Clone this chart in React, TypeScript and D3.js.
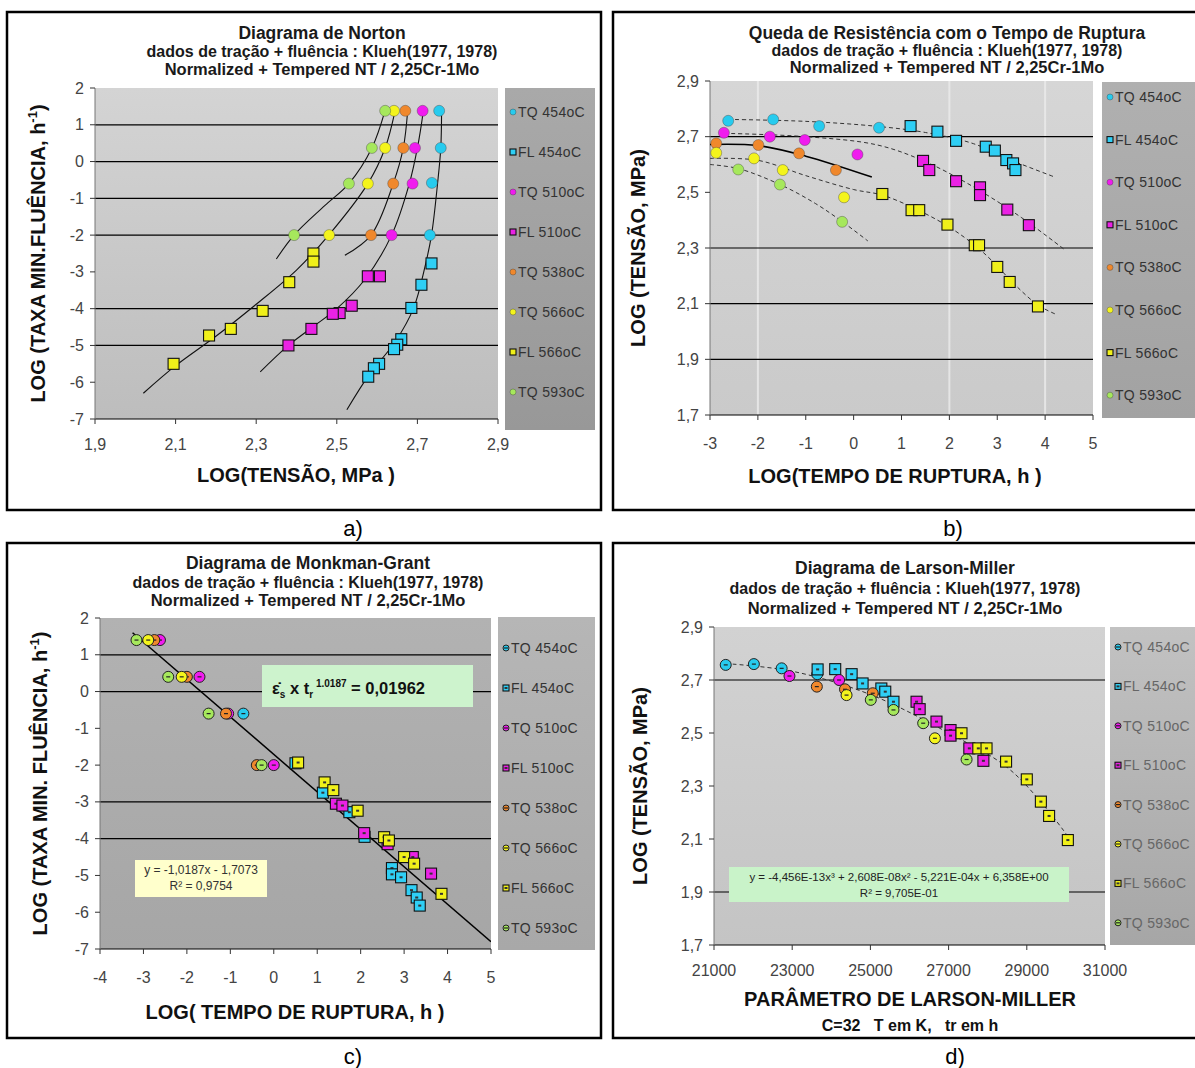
import React from "react";
import * as d3 from "d3";

type Pt = [number, number];

const FONT = '"Liberation Sans", Arial, sans-serif';

// legend (same in all four charts)
const legendNames = ["TQ 454oC", "FL 454oC", "TQ 510oC", "FL 510oC", "TQ 538oC", "TQ 566oC", "FL 566oC", "TQ 593oC"];
const markerColors = ["#27cbee", "#2fcff5", "#f01cee", "#ea22e4", "#f0882c", "#f4f41c", "#f0f01a", "#a6e85c"];
const markerShapes = ["circle", "square", "circle", "square", "circle", "circle", "square", "circle"];

// a) Norton: log(tensão) x log(taxa mín.)
const nortonTQ454: Pt[] = [[2.754, 1.38], [2.758, 0.37], [2.736, -0.58], [2.731, -2.0]];
const nortonFL454: Pt[] = [[2.735, -2.77], [2.71, -3.35], [2.685, -3.98], [2.66, -4.83], [2.65, -4.98], [2.642, -5.1], [2.605, -5.5], [2.592, -5.62], [2.578, -5.85]];
const nortonTQ510: Pt[] = [[2.713, 1.38], [2.694, 0.37], [2.688, -0.6], [2.636, -2.0]];
const nortonFL510: Pt[] = [[2.577, -3.12], [2.607, -3.12], [2.537, -3.92], [2.507, -4.12], [2.49, -4.14], [2.437, -4.55], [2.38, -5.0]];
const nortonTQ538: Pt[] = [[2.67, 1.38], [2.665, 0.37], [2.64, -0.6], [2.585, -2.0]];
const nortonTQ566: Pt[] = [[2.642, 1.38], [2.62, 0.37], [2.577, -0.6], [2.481, -2.0]];
const nortonFL566: Pt[] = [[2.442, -2.5], [2.442, -2.72], [2.382, -3.28], [2.316, -4.06], [2.237, -4.55], [2.183, -4.73], [2.095, -5.5]];
const nortonTQ593: Pt[] = [[2.62, 1.38], [2.587, 0.37], [2.53, -0.6], [2.394, -2.0]];
const nortonFit593: Pt[] = [[2.35, -2.65], [2.394, -2.0], [2.47, -1.2], [2.53, -0.6], [2.587, 0.37], [2.62, 1.4]];
const nortonFit566: Pt[] = [[2.02, -6.3], [2.1, -5.55], [2.2, -4.75], [2.3, -3.88], [2.4, -2.95], [2.48, -2.0], [2.577, -0.6], [2.62, 0.37], [2.645, 1.4]];
const nortonFit538: Pt[] = [[2.52, -2.55], [2.585, -2.0], [2.64, -0.6], [2.665, 0.37], [2.676, 1.4]];
const nortonFit510: Pt[] = [[2.31, -5.72], [2.38, -5.0], [2.44, -4.5], [2.5, -4.0], [2.57, -3.2], [2.636, -2.0], [2.68, -0.6], [2.7, 0.37], [2.715, 1.4]];
const nortonFit454: Pt[] = [[2.525, -6.75], [2.58, -5.8], [2.645, -4.9], [2.69, -4.0], [2.72, -2.8], [2.735, -2.0], [2.75, -0.6], [2.758, 0.37], [2.76, 1.4]];

// b) queda de resistência: log(tr) x log(tensão)
const rupTQ454: Pt[] = [[-2.62, 2.757], [-1.68, 2.762], [-0.72, 2.738], [0.53, 2.732]];
const rupFL454: Pt[] = [[1.19, 2.738], [1.75, 2.718], [2.14, 2.685], [2.76, 2.664], [2.95, 2.65], [3.19, 2.616], [3.33, 2.604], [3.38, 2.58]];
const rupTQ510: Pt[] = [[-2.71, 2.714], [-1.75, 2.7], [-1.02, 2.688], [0.08, 2.636]];
const rupFL510: Pt[] = [[1.45, 2.613], [1.58, 2.58], [2.14, 2.54], [2.64, 2.518], [2.64, 2.49], [3.21, 2.438], [3.66, 2.382]];
const rupTQ538: Pt[] = [[-2.87, 2.676], [-1.99, 2.67], [-1.14, 2.64], [-0.37, 2.58]];
const rupTQ566: Pt[] = [[-2.87, 2.642], [-2.08, 2.622], [-1.48, 2.58], [-0.2, 2.482]];
const rupFL566: Pt[] = [[0.6, 2.494], [1.21, 2.436], [1.37, 2.436], [1.96, 2.384], [2.53, 2.31], [2.62, 2.31], [3.0, 2.232], [3.26, 2.178], [3.85, 2.09]];
const rupTQ593: Pt[] = [[-2.41, 2.582], [-1.54, 2.528], [-0.24, 2.394]];
const rupFit454: Pt[] = [[-2.62, 2.762], [-1, 2.755], [0.5, 2.737], [1.5, 2.715], [2.5, 2.675], [3.3, 2.615], [4.2, 2.555]];
const rupFit510: Pt[] = [[-2.7, 2.712], [-1, 2.7], [0.5, 2.67], [1.5, 2.61], [2.5, 2.52], [3.5, 2.41], [4.4, 2.295]];
const rupFit538: Pt[] = [[-3, 2.672], [-2, 2.668], [-1, 2.63], [0.38, 2.555]];
const rupFit566: Pt[] = [[-3, 2.622], [-2, 2.615], [-1, 2.56], [0, 2.51], [0.6, 2.49], [1.3, 2.44], [2, 2.375], [2.6, 2.3], [3.0, 2.235], [3.3, 2.18], [3.85, 2.095], [4.25, 2.06]];
const rupFit593: Pt[] = [[-3, 2.6], [-2.4, 2.585], [-1.5, 2.525], [-0.8, 2.46], [-0.24, 2.395], [0.3, 2.325]];

// c) Monkman-Grant: log(tr) x log(taxa mín.)
const mgTQ454: Pt[] = [[-0.7, -0.6]];
const mgFL454: Pt[] = [[0.5, -1.95], [1.13, -2.75], [1.74, -3.28], [2.09, -3.95], [2.72, -4.8], [2.72, -4.97], [2.93, -5.05], [3.17, -5.4], [3.29, -5.6], [3.36, -5.82]];
const mgTQ510: Pt[] = [[-2.62, 1.4], [-1.71, 0.4], [-1.05, -0.6], [0.0, -2.0]];
const mgFL510: Pt[] = [[1.43, -3.05], [1.58, -3.1], [2.08, -3.85], [2.62, -4.15], [3.2, -4.5], [3.62, -4.95]];
const mgTQ538: Pt[] = [[-2.75, 1.4], [-2.0, 0.4], [-1.1, -0.6], [-0.39, -2.0]];
const mgTQ566: Pt[] = [[-2.89, 1.4], [-2.12, 0.4]];
const mgFL566: Pt[] = [[0.56, -1.93], [1.17, -2.47], [1.37, -2.68], [1.93, -3.24], [2.54, -3.96], [2.65, -4.05], [3.0, -4.5], [3.23, -4.68], [3.86, -5.5]];
const mgTQ593: Pt[] = [[-3.16, 1.4], [-2.43, 0.4], [-1.5, -0.6], [-0.28, -2.0]];
const mgFit: Pt[] = [[-3.25, 1.6], [5, -6.8]];

// d) Larson-Miller: P x log(tensão)
const lmTQ454: Pt[] = [[21300, 2.757], [22020, 2.76], [22730, 2.744], [23640, 2.722]];
const lmFL454: Pt[] = [[23650, 2.74], [24100, 2.741], [24520, 2.722], [24800, 2.687], [25280, 2.668], [25380, 2.656], [25590, 2.618]];
const lmTQ510: Pt[] = [[22930, 2.715], [24200, 2.7]];
const lmFL510: Pt[] = [[26180, 2.618], [26260, 2.59], [26690, 2.543], [27050, 2.511], [27050, 2.49], [27530, 2.442], [27890, 2.395]];
const lmTQ538: Pt[] = [[23630, 2.675], [24350, 2.665], [25060, 2.65]];
const lmTQ566: Pt[] = [[24390, 2.643], [26650, 2.48]];
const lmFL566: Pt[] = [[27330, 2.499], [27760, 2.442], [27970, 2.442], [28470, 2.392], [29000, 2.325], [29360, 2.241], [29570, 2.187], [30050, 2.096]];
const lmTQ593: Pt[] = [[25010, 2.625], [25590, 2.587], [26350, 2.537], [27460, 2.4]];
const lmFit: Pt[] = [[21300, 2.762], [23000, 2.733], [25000, 2.645], [27000, 2.5], [28500, 2.37], [29500, 2.215], [30200, 2.08]];

const titleLines = ["dados de tração +  fluência : Klueh(1977, 1978)", "Normalized + Tempered  NT / 2,25Cr-1Mo"];
const titleSizes = [17.5, 16, 16.5];
const ticksA = [-7, -6, -5, -4, -3, -2, -1, 0, 1, 2];
const ticksStress = [1.7, 1.9, 2.1, 2.3, 2.5, 2.7, 2.9];

const comma = (d: number) => d3.format(".1f")(d).replace(".", ",");
const plain = (d: number) => String(d);

interface Fit { pts: Pt[]; dash?: string; width: number; color: string; curved: boolean }
interface PanelCfg {
  id: string;
  box: number[];
  px: [number, number];
  py: [number, number];
  xDomain: [number, number];
  yDomain: [number, number];
  xTicks: number[];
  yTicks: number[];
  xFmt: (d: number) => string;
  yFmt: (d: number) => string;
  hGrid: number[];
  vGrid: number[];
  titles: string[];
  titleX: number;
  titleY: number[];
  yTitle: React.ReactNode;
  yTitleX: number;
  xTitle: string;
  xTitleX: number;
  xTitleY: number;
  xTickY: number;
  legend: number[];
  legendY0: number;
  legendDy: number;
  legendText: string;
  series: Pt[][];
  fits: Fit[];
  plotFill: [string, string];
  legendFill: [string, string];
  marker: "plain" | "dot";
}

const hInv = (label: string) => (
  <>
    {label}
    <tspan dy={-8} fontSize={13}>-1</tspan>
    <tspan dy={8}>)</tspan>
  </>
);

function Marker({ x, y, i, style, size }: { x: number; y: number; i: number; style: string; size: number }) {
  const c = markerColors[i];
  const h = size / 2;
  if (markerShapes[i] === "square") {
    return (
      <g>
        <rect x={x - h} y={y - h} width={size} height={size} fill={c} stroke="#111" strokeWidth={1.1} />
        {style === "dot" && <rect x={x - 1.5} y={y - 1} width={3} height={2} fill="#333" />}
      </g>
    );
  }
  return (
    <g>
      <circle cx={x} cy={y} r={h} fill={c} stroke={style === "dot" ? "#222" : "rgba(60,60,60,0.55)"} strokeWidth={style === "dot" ? 1 : 0.7} />
      {style === "dot" && <line x1={x - 2} x2={x + 2} y1={y} y2={y} stroke="#222" strokeWidth={1.2} />}
    </g>
  );
}

function Panel({ cfg }: { cfg: PanelCfg }) {
  const x = d3.scaleLinear().domain(cfg.xDomain).range(cfg.px);
  const y = d3.scaleLinear().domain(cfg.yDomain).range([cfg.py[1], cfg.py[0]]);
  const [bx, by, bw, bh] = cfg.box;
  const [lx, ly, lw, lh] = cfg.legend;
  const pw = cfg.px[1] - cfg.px[0];
  const ph = cfg.py[1] - cfg.py[0];
  return (
    <g fontFamily={FONT}>
      <defs>
        <linearGradient id={`pf-${cfg.id}`} x1="0" y1="0" x2="0" y2="1">
          <stop offset="0" stopColor={cfg.plotFill[0]} />
          <stop offset="1" stopColor={cfg.plotFill[1]} />
        </linearGradient>
        <linearGradient id={`lf-${cfg.id}`} x1="0" y1="0" x2="0" y2="1">
          <stop offset="0" stopColor={cfg.legendFill[0]} />
          <stop offset="1" stopColor={cfg.legendFill[1]} />
        </linearGradient>
        <clipPath id={`clip-${cfg.id}`}>
          <rect x={cfg.px[0]} y={cfg.py[0]} width={pw} height={ph} />
        </clipPath>
      </defs>
      <rect x={bx} y={by} width={bw} height={bh} fill="#fff" stroke="#000" strokeWidth={2.5} />
      {cfg.titles.map((t, i) => (
        <text key={i} x={cfg.titleX} y={cfg.titleY[i]} textAnchor="middle" fontSize={titleSizes[i]} fontWeight="bold" fill="#1a1a1a">
          {t}
        </text>
      ))}
      <rect x={cfg.px[0]} y={cfg.py[0]} width={pw} height={ph} fill={`url(#pf-${cfg.id})`} />
      {cfg.vGrid.map((v) => (
        <line key={v} x1={x(v)} x2={x(v)} y1={cfg.py[0]} y2={cfg.py[1]} stroke="#ececec" strokeWidth={2} opacity={0.8} />
      ))}
      {cfg.hGrid.map((v) => (
        <line key={v} x1={cfg.px[0]} x2={cfg.px[1]} y1={y(v)} y2={y(v)} stroke="#000" strokeWidth={1.2} />
      ))}
      <line x1={cfg.px[0]} x2={cfg.px[1]} y1={cfg.py[1]} y2={cfg.py[1]} stroke="#000" strokeWidth={1.2} />
      <line x1={cfg.px[0]} x2={cfg.px[0]} y1={cfg.py[0]} y2={cfg.py[1]} stroke="#777" strokeWidth={1} />
      {cfg.yTicks.map((v) => (
        <g key={v}>
          <line x1={cfg.px[0] - 5} x2={cfg.px[0]} y1={y(v)} y2={y(v)} stroke="#333" />
          <text x={cfg.px[0] - 11} y={y(v) + 5.5} textAnchor="end" fontSize={16} fill="#444">
            {cfg.yFmt(v)}
          </text>
        </g>
      ))}
      {cfg.xTicks.map((v) => (
        <g key={v}>
          <line x1={x(v)} x2={x(v)} y1={cfg.py[1]} y2={cfg.py[1] + 5} stroke="#333" />
          <text x={x(v)} y={cfg.xTickY} textAnchor="middle" fontSize={16} fill="#444">
            {cfg.xFmt(v)}
          </text>
        </g>
      ))}
      <g clipPath={`url(#clip-${cfg.id})`}>
        {cfg.fits.map((f, i) => {
          const gen = d3
            .line<Pt>()
            .x((d) => x(d[0]))
            .y((d) => y(d[1]))
            .curve(f.curved ? d3.curveCatmullRom : d3.curveLinear);
          return <path key={i} d={gen(f.pts) || ""} fill="none" stroke={f.color} strokeWidth={f.width} strokeDasharray={f.dash} />;
        })}
        {cfg.series.map((s, i) =>
          s.map((p, j) => <Marker key={`${i}-${j}`} x={x(p[0])} y={y(p[1])} i={i} style={cfg.marker} size={11} />)
        )}
      </g>
      <rect x={lx} y={ly} width={lw} height={lh} fill={`url(#lf-${cfg.id})`} />
      {legendNames.map((n, i) => {
        const yy = cfg.legendY0 + i * cfg.legendDy;
        return (
          <g key={n}>
            <Marker x={lx + 8} y={yy} i={i} style={cfg.marker} size={6} />
            <text x={lx + 13} y={yy + 5} fontSize={14} letterSpacing={0.3} fill={cfg.legendText}>
              {n}
            </text>
          </g>
        );
      })}
      <text
        transform={`translate(${cfg.yTitleX},${(cfg.py[0] + cfg.py[1]) / 2}) rotate(-90)`}
        textAnchor="middle"
        fontSize={20}
        fontWeight="bold"
        fill="#111"
      >
        {cfg.yTitle}
      </text>
      <text x={cfg.xTitleX} y={cfg.xTitleY} textAnchor="middle" fontSize={20} fontWeight="bold" fill="#111">
        {cfg.xTitle}
      </text>
    </g>
  );
}

const seriesStyle = (curved: boolean, dash?: string, width = 1.1, color = "#111") => ({ curved, dash, width, color });

const panelA: PanelCfg = {
  id: "a",
  box: [7, 12, 594, 498],
  px: [95, 498],
  py: [88, 419],
  xDomain: [1.9, 2.9],
  yDomain: [-7, 2],
  xTicks: [1.9, 2.1, 2.3, 2.5, 2.7, 2.9],
  yTicks: ticksA,
  xFmt: comma,
  yFmt: plain,
  hGrid: [1, 0, -1, -2, -4, -5],
  vGrid: [],
  titles: ["Diagrama de Norton", ...titleLines],
  titleX: 322,
  titleY: [39, 57, 75],
  yTitle: hInv("LOG (TAXA MIN.FLUÊNCIA, h"),
  yTitleX: 45,
  xTitle: "LOG(TENSÃO, MPa )",
  xTitleX: 296,
  xTitleY: 482,
  xTickY: 450,
  legend: [505, 88, 90, 342],
  legendY0: 112,
  legendDy: 40,
  legendText: "#333",
  series: [nortonTQ454, nortonFL454, nortonTQ510, nortonFL510, nortonTQ538, nortonTQ566, nortonFL566, nortonTQ593],
  fits: [nortonFit593, nortonFit566, nortonFit538, nortonFit510, nortonFit454].map((pts) => ({ pts, ...seriesStyle(true) })),
  plotFill: ["#d4d4d4", "#bdbdbd"],
  legendFill: ["#a9a9a9", "#989898"],
  marker: "plain",
};

const panelB: PanelCfg = {
  id: "b",
  box: [613, 12, 600, 498],
  px: [710, 1093],
  py: [81, 415],
  xDomain: [-3, 5],
  yDomain: [1.7, 2.9],
  xTicks: [-3, -2, -1, 0, 1, 2, 3, 4, 5],
  yTicks: ticksStress,
  xFmt: plain,
  yFmt: comma,
  hGrid: [2.7, 2.3, 2.1, 1.9],
  vGrid: [-2, 2, 4],
  titles: ["Queda de Resistência com o Tempo de Ruptura", ...titleLines],
  titleX: 947,
  titleY: [39, 56, 73],
  yTitle: "LOG (TENSÃO, MPa)",
  yTitleX: 645,
  xTitle: "LOG(TEMPO DE RUPTURA, h )",
  xTitleX: 895,
  xTitleY: 483,
  xTickY: 449,
  legend: [1102, 82, 100, 336],
  legendY0: 97,
  legendDy: 42.6,
  legendText: "#333",
  series: [rupTQ454, rupFL454, rupTQ510, rupFL510, rupTQ538, rupTQ566, rupFL566, rupTQ593],
  fits: [
    { pts: rupFit454, ...seriesStyle(true, "4 3", 1, "#333") },
    { pts: rupFit510, ...seriesStyle(true, "4 3", 1, "#333") },
    { pts: rupFit538, ...seriesStyle(true, undefined, 1.6, "#000") },
    { pts: rupFit566, ...seriesStyle(true, "4 3", 1, "#333") },
    { pts: rupFit593, ...seriesStyle(true, "4 3", 1, "#333") },
  ],
  plotFill: ["#d6d6d6", "#cacaca"],
  legendFill: ["#b0b0b0", "#a2a2a2"],
  marker: "plain",
};

const panelC: PanelCfg = {
  id: "c",
  box: [7, 543, 594, 495],
  px: [100, 491],
  py: [618, 949],
  xDomain: [-4, 5],
  yDomain: [-7, 2],
  xTicks: [-4, -3, -2, -1, 0, 1, 2, 3, 4, 5],
  yTicks: ticksA,
  xFmt: plain,
  yFmt: plain,
  hGrid: [1, 0, -3, -4],
  vGrid: [],
  titles: ["Diagrama de Monkman-Grant", ...titleLines],
  titleX: 308,
  titleY: [569, 588, 606],
  yTitle: hInv("LOG (TAXA  MIN. FLUÊNCIA, h"),
  yTitleX: 47,
  xTitle: "LOG( TEMPO DE RUPTURA, h )",
  xTitleX: 295,
  xTitleY: 1019,
  xTickY: 983,
  legend: [498, 617, 97, 333],
  legendY0: 648,
  legendDy: 40,
  legendText: "#333",
  series: [mgTQ454, mgFL454, mgTQ510, mgFL510, mgTQ538, mgTQ566, mgFL566, mgTQ593],
  fits: [{ pts: mgFit, ...seriesStyle(false, undefined, 1.5, "#000") }],
  plotFill: ["#b2b2b2", "#a6a6a6"],
  legendFill: ["#b6b6b6", "#a8a8a8"],
  marker: "dot",
};

const panelD: PanelCfg = {
  id: "d",
  box: [613, 543, 600, 495],
  px: [714, 1105],
  py: [627, 945],
  xDomain: [21000, 31000],
  yDomain: [1.7, 2.9],
  xTicks: [21000, 23000, 25000, 27000, 29000, 31000],
  yTicks: ticksStress,
  xFmt: plain,
  yFmt: comma,
  hGrid: [2.7, 1.9],
  vGrid: [],
  titles: ["Diagrama de Larson-Miller", ...titleLines],
  titleX: 905,
  titleY: [574, 594, 614],
  yTitle: "LOG (TENSÃO, MPa)",
  yTitleX: 647,
  xTitle: "PARÂMETRO DE LARSON-MILLER",
  xTitleX: 910,
  xTitleY: 1006,
  xTickY: 976,
  legend: [1110, 627, 92, 318],
  legendY0: 647,
  legendDy: 39.4,
  legendText: "#666",
  series: [lmTQ454, lmFL454, lmTQ510, lmFL510, lmTQ538, lmTQ566, lmFL566, lmTQ593],
  fits: [{ pts: lmFit, ...seriesStyle(true, "4 3", 1, "#333") }],
  plotFill: ["#d2d2d2", "#c4c4c4"],
  legendFill: ["#c2c2c2", "#a6a6a6"],
  marker: "dot",
};

export default function App() {
  return (
    <svg
      width={1195}
      height={1068}
      style={{ position: "absolute", left: 0, top: 0, background: "#fff" }}
      fontFamily={FONT}
    >
      <Panel cfg={panelA} />
      <Panel cfg={panelB} />
      <Panel cfg={panelC} />
      <Panel cfg={panelD} />

      {/* c) boxes with the fitted laws */}
      <rect x={262} y={665} width={211} height={42} fill="#cdf3cd" />
      <text x={272} y={694} fontSize={16.5} fontWeight="bold" fill="#111">
        {"ε\u0307"}
        <tspan dy={4} fontSize={10}>s</tspan>
        <tspan dy={-4}> x t</tspan>
        <tspan dy={4} fontSize={10}>r</tspan>
        <tspan dy={-11} fontSize={10}> 1.0187</tspan>
        <tspan dy={7}> = 0,01962</tspan>
      </text>
      <rect x={135} y={860} width={132} height={37} fill="#ffffcc" />
      <text x={201} y={874} textAnchor="middle" fontSize={12} fill="#333">y = -1,0187x - 1,7073</text>
      <text x={201} y={890} textAnchor="middle" fontSize={12} fill="#333">R² = 0,9754</text>

      {/* d) polynomial fit */}
      <rect x={729} y={867} width={340} height={35} fill="#c9f3c9" />
      <text x={899} y={881} textAnchor="middle" fontSize={11.5} fill="#222">
        y = -4,456E-13x³ + 2,608E-08x² - 5,221E-04x + 6,358E+00
      </text>
      <text x={899} y={897} textAnchor="middle" fontSize={11.5} fill="#222">R² = 9,705E-01</text>
      <text x={910} y={1031} textAnchor="middle" fontSize={16} fontWeight="bold" fill="#111">
        C=32{"\u00a0\u00a0\u00a0"}T em K,{"\u00a0\u00a0\u00a0"}tr em h
      </text>

      {/* panel letters */}
      <text x={353} y={536} textAnchor="middle" fontSize={22} fill="#000">a)</text>
      <text x={953} y={536} textAnchor="middle" fontSize={22} fill="#000">b)</text>
      <text x={353} y={1064} textAnchor="middle" fontSize={22} fill="#000">c)</text>
      <text x={955} y={1064} textAnchor="middle" fontSize={22} fill="#000">d)</text>
    </svg>
  );
}
